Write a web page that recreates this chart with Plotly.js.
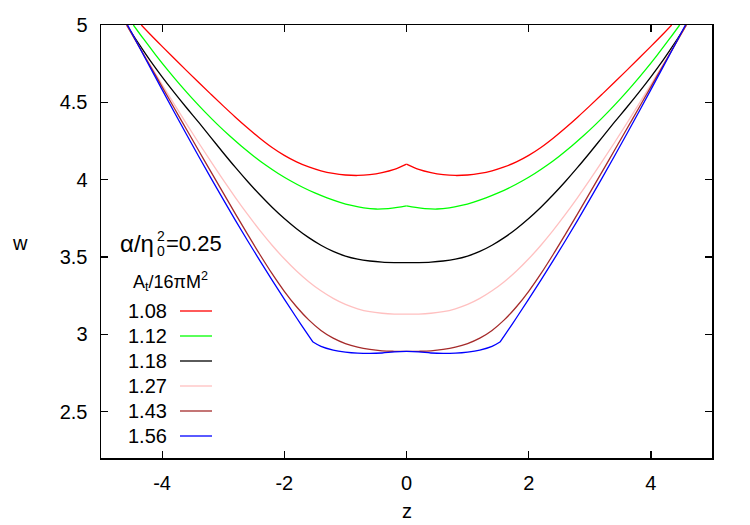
<!DOCTYPE html>
<html>
<head>
<meta charset="utf-8">
<script src="https://cdn.plot.ly/plotly-3.0.1.min.js"></script>
<style>
  html, body { margin: 0; padding: 0; background: #fff; }
  #plot { width: 750px; height: 525px; }
</style>
</head>
<body>
<div id="plot"></div>
<script>
// Profiles w(z) for alpha/eta0^2 = 0.25, one per horizon area A_t/16piM^2
const areaLabels = ['1.08', '1.12', '1.18', '1.27', '1.43', '1.56'];
const lineColors = ['#ff0000', '#00ff00', '#000000', '#ffc0c0', '#a52a2a', '#0000ff'];

const z108 = [-4.34, -4.2, -4.0, -3.8, -3.6, -3.4, -3.2, -3.0, -2.8, -2.6, -2.4, -2.2, -2.0, -1.8, -1.6, -1.4, -1.2, -1.0, -0.8, -0.6, -0.4, -0.2, 0,
              0.2, 0.4, 0.6, 0.8, 1.0, 1.2, 1.4, 1.6, 1.8, 2.0, 2.2, 2.4, 2.6, 2.8, 3.0, 3.2, 3.4, 3.6, 3.8, 4.0, 4.2, 4.34];
const w108 = [5.000, 4.942, 4.862, 4.783, 4.705, 4.628, 4.552, 4.477, 4.404, 4.334, 4.268, 4.208, 4.157, 4.115, 4.082, 4.057, 4.040, 4.030, 4.027, 4.032, 4.045, 4.066, 4.100,
              4.066, 4.045, 4.032, 4.027, 4.030, 4.040, 4.057, 4.082, 4.115, 4.157, 4.208, 4.268, 4.334, 4.404, 4.477, 4.552, 4.628, 4.705, 4.783, 4.862, 4.942, 5.000];

const z112 = [-4.47, -4.3, -4.1, -3.9, -3.7, -3.5, -3.3, -3.1, -2.9, -2.7, -2.5, -2.3, -2.1, -1.9, -1.7, -1.5, -1.3, -1.1, -0.9, -0.7, -0.5, -0.3, -0.15, 0,
              0.15, 0.3, 0.5, 0.7, 0.9, 1.1, 1.3, 1.5, 1.7, 1.9, 2.1, 2.3, 2.5, 2.7, 2.9, 3.1, 3.3, 3.5, 3.7, 3.9, 4.1, 4.3, 4.47];
const w112 = [5.000, 4.908, 4.804, 4.705, 4.611, 4.522, 4.438, 4.359, 4.285, 4.216, 4.152, 4.093, 4.040, 3.993, 3.951, 3.914, 3.882, 3.855, 3.833, 3.817, 3.810, 3.813, 3.820, 3.830,
              3.820, 3.813, 3.810, 3.817, 3.833, 3.855, 3.882, 3.914, 3.951, 3.993, 4.040, 4.093, 4.152, 4.216, 4.285, 4.359, 4.438, 4.522, 4.611, 4.705, 4.804, 4.908, 5.000];

const z118 = [-4.58, -4.4, -4.2, -4.0, -3.8, -3.6, -3.4, -3.2, -3.0, -2.8, -2.6, -2.4, -2.2, -2.0, -1.8, -1.6, -1.4, -1.2, -1.0, -0.8, -0.6, -0.4, -0.2, 0,
              0.2, 0.4, 0.6, 0.8, 1.0, 1.2, 1.4, 1.6, 1.8, 2.0, 2.2, 2.4, 2.6, 2.8, 3.0, 3.2, 3.4, 3.6, 3.8, 4.0, 4.2, 4.4, 4.58];
const w118 = [5.000, 4.889, 4.773, 4.665, 4.563, 4.465, 4.370, 4.272, 4.174, 4.079, 3.988, 3.902, 3.822, 3.749, 3.683, 3.625, 3.576, 3.536, 3.506, 3.486, 3.474, 3.467, 3.464, 3.463,
              3.464, 3.467, 3.474, 3.486, 3.506, 3.536, 3.576, 3.625, 3.683, 3.749, 3.822, 3.902, 3.988, 4.079, 4.174, 4.272, 4.370, 4.465, 4.563, 4.665, 4.773, 4.889, 5.000];

const z127 = [-4.585, -4.4, -4.2, -4.0, -3.8, -3.6, -3.4, -3.2, -3.0, -2.8, -2.6, -2.4, -2.2, -2.0, -1.8, -1.6, -1.4, -1.2, -1.0, -0.8, -0.6, -0.4, -0.2, 0,
              0.2, 0.4, 0.6, 0.8, 1.0, 1.2, 1.4, 1.6, 1.8, 2.0, 2.2, 2.4, 2.6, 2.8, 3.0, 3.2, 3.4, 3.6, 3.8, 4.0, 4.2, 4.4, 4.585];
const w127 = [5.000, 4.877, 4.745, 4.615, 4.487, 4.361, 4.237, 4.116, 3.998, 3.884, 3.775, 3.672, 3.576, 3.488, 3.409, 3.340, 3.281, 3.232, 3.193, 3.165, 3.146, 3.136, 3.131, 3.130,
              3.131, 3.136, 3.146, 3.165, 3.193, 3.232, 3.281, 3.340, 3.409, 3.488, 3.576, 3.672, 3.775, 3.884, 3.998, 4.116, 4.237, 4.361, 4.487, 4.615, 4.745, 4.877, 5.000];

const z143 = [-4.58, -4.4, -4.2, -4.0, -3.8, -3.6, -3.4, -3.2, -3.0, -2.8, -2.6, -2.4, -2.2, -2.0, -1.8, -1.6, -1.4, -1.2, -1.0, -0.8, -0.6, -0.4, -0.2, 0,
              0.2, 0.4, 0.6, 0.8, 1.0, 1.2, 1.4, 1.6, 1.8, 2.0, 2.2, 2.4, 2.6, 2.8, 3.0, 3.2, 3.4, 3.6, 3.8, 4.0, 4.2, 4.4, 4.58];
const w143 = [5.000, 4.876, 4.738, 4.600, 4.462, 4.324, 4.187, 4.050, 3.914, 3.779, 3.646, 3.516, 3.392, 3.278, 3.178, 3.093, 3.025, 2.975, 2.940, 2.917, 2.902, 2.893, 2.890, 2.889,
              2.890, 2.893, 2.902, 2.917, 2.940, 2.975, 3.025, 3.093, 3.178, 3.278, 3.392, 3.516, 3.646, 3.779, 3.914, 4.050, 4.187, 4.324, 4.462, 4.600, 4.738, 4.876, 5.000];

const z156 = [-4.565, -4.4, -4.2, -4.0, -3.8, -3.6, -3.4, -3.2, -3.0, -2.8, -2.6, -2.4, -2.2, -2.0, -1.8, -1.6, -1.53, -1.4, -1.2, -1.0, -0.8, -0.6, -0.4, -0.2, 0,
              0.2, 0.4, 0.6, 0.8, 1.0, 1.2, 1.4, 1.53, 1.6, 1.8, 2.0, 2.2, 2.4, 2.6, 2.8, 3.0, 3.2, 3.4, 3.6, 3.8, 4.0, 4.2, 4.4, 4.565];
const w156 = [5.000, 4.877, 4.729, 4.582, 4.436, 4.292, 4.150, 4.010, 3.872, 3.737, 3.605, 3.476, 3.350, 3.227, 3.107, 2.990, 2.950, 2.922, 2.898, 2.885, 2.878, 2.876, 2.879, 2.886, 2.889,
              2.886, 2.879, 2.876, 2.878, 2.885, 2.898, 2.922, 2.950, 2.990, 3.107, 3.227, 3.350, 3.476, 3.605, 3.737, 3.872, 4.010, 4.150, 4.292, 4.436, 4.582, 4.729, 4.877, 5.000];

// z positions where a profile has a corner (cusp or kink)
const corners108 = [0];
const corners112 = [0];
const corners156 = [-1.53, 1.53];

const xTicks = [-4, -2, 0, 2, 4];
const xTickText = ['-4', '-2', '0', '2', '4'];
const yTicks = [2.5, 3, 3.5, 4, 4.5, 5];
const yTickText = ['2.5', '3', '3.5', '4', '4.5', '5'];

const zSeries = [z108, z112, z118, z127, z143, z156];
const wSeries = [w108, w112, w118, w127, w143, w156];
const cornerSeries = [corners108, corners112, [], [], [], corners156];

const FONT = 'Liberation Sans, Arial, Helvetica, sans-serif';

// plot-area geometry in pixels, used to place the key in paper units
const W = 750, H = 525;
const M = { l: 101, r: 38, t: 25, b: 67 };
const PW = W - M.l - M.r, PH = H - M.t - M.b;
const px = x => (x - M.l) / PW;
const py = y => (H - M.b - y) / PH;

// each profile is drawn as smooth pieces joined at its corners
const traces = [];
zSeries.forEach((z, i) => {
  const w = wSeries[i];
  const cuts = cornerSeries[i].map(c => z.indexOf(c));
  const bounds = [0].concat(cuts, [z.length - 1]);
  for (let k = 0; k < bounds.length - 1; k++) {
    traces.push({
      x: z.slice(bounds[k], bounds[k + 1] + 1),
      y: w.slice(bounds[k], bounds[k + 1] + 1),
      type: 'scatter', mode: 'lines',
      line: { color: lineColors[i], width: 1.3, shape: 'spline', smoothing: 1 },
      name: areaLabels[i],
      hoverinfo: 'skip'
    });
  }
});

const annotations = [];
const shapes = [];
function label(text, x, y, size, anchor) {
  annotations.push({
    xref: 'paper', yref: 'paper', x: px(x), y: py(y),
    xanchor: anchor || 'center', yanchor: 'middle',
    text: text, showarrow: false,
    font: { family: FONT, size: size, color: '#000' }
  });
}

// parameter label: alpha/eta_0^2 = 0.25, with sub- and superscript stacked
label('α/η', 136.5, 243, 24);
label('2', 161, 236, 14);
label('0', 161, 251, 14);
label('=0.25', 194, 243, 22);
// key heading
label('A<sub>t</sub>/16πM<sup>2</sup>', 170, 281, 18);

// key entries: value on the left, line sample on the right
areaLabels.forEach((t, i) => {
  const yc = 311 + i * 25;
  label(t, 147.5, yc, 20);
  shapes.push({
    type: 'line', xref: 'paper', yref: 'paper',
    x0: px(180), x1: px(212), y0: py(yc), y1: py(yc),
    line: { color: lineColors[i], width: 1.3 }
  });
});

// axis titles
label('w', 20, 243, 20);
label('z', 407, 511, 20);

const axisCommon = {
  ticks: 'inside', ticklen: 7, tickwidth: 1.2, tickcolor: '#000',
  showline: true, linecolor: '#000', linewidth: 1.5, mirror: 'ticks',
  showgrid: false, zeroline: false,
  tickfont: { family: FONT, size: 20, color: '#000' }
};

const layout = {
  width: W, height: H,
  margin: M,
  paper_bgcolor: '#fff', plot_bgcolor: '#fff',
  showlegend: false,
  xaxis: Object.assign({}, axisCommon, {
    range: [-5, 5], tickmode: 'array', tickvals: xTicks, ticktext: xTickText,
    ticklabelstandoff: 6
  }),
  yaxis: Object.assign({}, axisCommon, {
    range: [2.2, 5], tickmode: 'array', tickvals: yTicks, ticktext: yTickText,
    ticklabelstandoff: 8
  }),
  annotations: annotations,
  shapes: shapes
};

Plotly.newPlot('plot', traces, layout, { staticPlot: true, displayModeBar: false });
</script>
</body>
</html>
